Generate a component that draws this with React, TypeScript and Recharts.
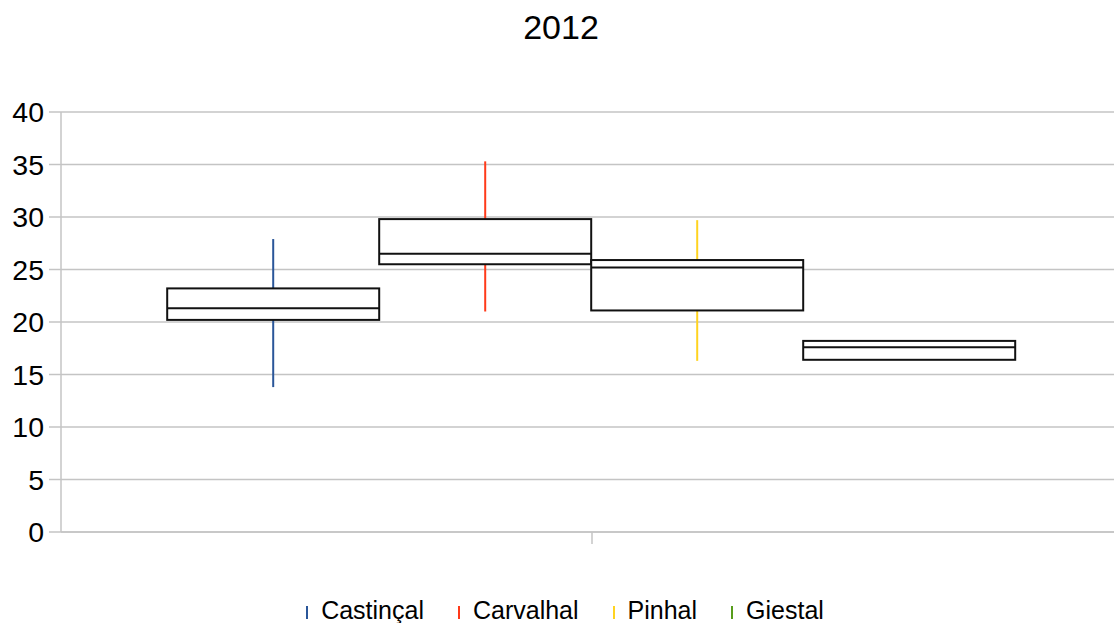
import React from 'react';
import { ComposedChart, Bar, XAxis, YAxis, CartesianGrid } from 'recharts';

const title = '2012';
const categories = [''];
const seriesNames = ['Castinçal', 'Carvalhal', 'Pinhal', 'Giestal'];
const seriesColors = ['#2a5699', '#ff3a1a', '#ffd320', '#579d1c'];
const whiskerLow = [13.8, 21.0, 16.3, 16.4];
const whiskerHigh = [27.9, 35.3, 29.7, 16.6];
const boxLow = [20.2, 25.5, 21.1, 16.4];
const boxMedian = [21.3, 26.5, 25.2, 17.6];
const boxHigh = [23.2, 29.8, 25.9, 18.2];
const yTicks = [0, 5, 10, 15, 20, 25, 30, 35, 40];

const keyOf = (i: number) => `s${i}`;

const data = categories.map((c) => {
  const row: any = { name: c };
  seriesNames.forEach((_, i) => {
    const lo = Math.min(whiskerLow[i], boxLow[i]);
    const hi = Math.max(whiskerHigh[i], boxHigh[i]);
    row[keyOf(i)] = [lo, hi];
  });
  return row;
});

const GRID = '#c4c4c4';
const FONT = '"Liberation Sans", Arial, sans-serif';

function makeShape(i: number) {
  return (props: any) => {
    const { x, y, width, height } = props;
    const lo = Math.min(whiskerLow[i], boxLow[i]);
    const hi = Math.max(whiskerHigh[i], boxHigh[i]);
    const top = Math.min(y, y + height);
    const h = Math.abs(height);
    const pix = (v: number) => top + ((hi - v) / (hi - lo)) * h;
    const cx = x + width / 2;
    const bTop = pix(boxHigh[i]);
    const bBot = pix(boxLow[i]);
    const med = pix(boxMedian[i]);
    return (
      <g>
        <line x1={cx} x2={cx} y1={pix(whiskerHigh[i])} y2={pix(whiskerLow[i])} stroke={seriesColors[i]} strokeWidth={2} />
        <rect x={x} y={bTop} width={width} height={bBot - bTop} fill="#ffffff" stroke="#111" strokeWidth={2} />
        <line x1={x} x2={x + width} y1={med} y2={med} stroke="#111" strokeWidth={2} />
      </g>
    );
  };
}

export default function App() {
  return (
    <div style={{ position: 'absolute', left: 0, top: 0, width: 1114, height: 623, overflow: 'hidden', background: '#fff', fontFamily: FONT }}>
      <div style={{ position: 'absolute', left: 0, top: 10, width: 1122, textAlign: 'center', fontSize: 34, lineHeight: '34px', color: '#000' }}>{title}</div>
      <div style={{ position: 'absolute', left: 0, width: 1130 }}>
        <ComposedChart
          width={1130}
          height={623}
          data={data}
          margin={{ top: 112, right: 7, left: 0, bottom: 61 }}
          barCategoryGap="10%"
          barGap={0}
        >
          <CartesianGrid horizontal vertical={false} stroke={GRID} strokeWidth={1.5} />
          <XAxis
            dataKey="name"
            height={30}
            tickFormatter={() => ''}
            tickSize={12}
            axisLine={{ stroke: GRID, strokeWidth: 1.5 }}
            tickLine={{ stroke: GRID, strokeWidth: 1.5 }}
          />
          <YAxis
            width={61}
            domain={[0, 40]}
            ticks={yTicks}
            interval={0}
            tickSize={12}
            tickMargin={5}
            axisLine={{ stroke: GRID, strokeWidth: 1.5 }}
            tickLine={{ stroke: GRID, strokeWidth: 1.5 }}
            tick={{ fill: '#000', fontSize: 28.5, fontFamily: FONT }}
          />
          {seriesNames.map((n, i) => (
            <Bar key={n} dataKey={keyOf(i)} name={n} isAnimationActive={false} shape={makeShape(i)} />
          ))}
        </ComposedChart>
      </div>
      <div style={{ position: 'absolute', left: 0, top: 598, width: 1130, display: 'flex', justifyContent: 'center', fontSize: 25, lineHeight: '25px', color: '#000' }}>
        {seriesNames.map((n, i) => (
          <div key={n} style={{ display: 'flex', alignItems: 'center', marginRight: i < seriesNames.length - 1 ? 34 : 0 }}>
            <span style={{ display: 'inline-block', width: 2, height: 13, background: seriesColors[i], marginRight: 13, marginTop: 4 }} />
            <span>{n}</span>
          </div>
        ))}
      </div>
    </div>
  );
}
